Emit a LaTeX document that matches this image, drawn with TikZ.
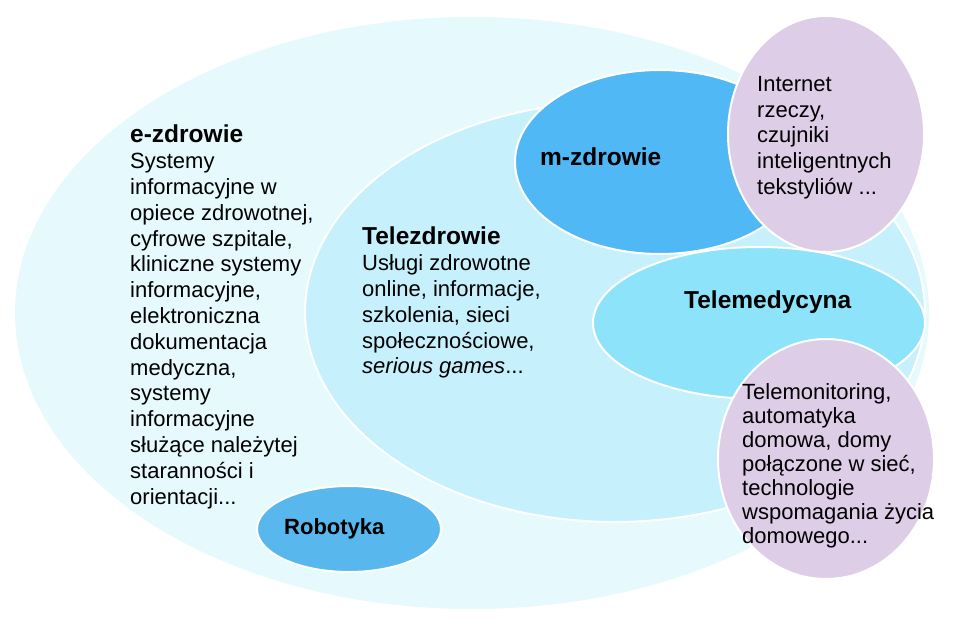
\documentclass[tikz,border=0pt]{standalone}
\usepackage{fontspec}
\setmainfont{Liberation Sans}
\usetikzlibrary{shapes.geometric}
\definecolor{haze}{HTML}{E6F9FD}
\definecolor{frost}{HTML}{C6F1FC}
\definecolor{azure}{HTML}{4FB8F5}
\definecolor{aqua}{HTML}{8DE3FA}
\definecolor{lilac}{HTML}{DDCDE7}
\definecolor{robo}{HTML}{58B8EE}

\begin{document}
\begin{tikzpicture}[x=1pt,y=-1pt,
  blob/.style={ellipse,draw=white,line width=2pt,inner sep=0pt},
  body/.style={align=left,anchor=north west,inner sep=0pt,font=\fontsize{22}{25.8}\selectfont},
  head/.style={anchor=base west,inner sep=0pt,font=\fontsize{24.5}{25.8}\selectfont\bfseries}]
  \useasboundingbox (0,0) rectangle (957,628);
  % nested areas
  \node[blob,draw=none,fill=haze,minimum width=914pt,minimum height=592pt] (ezdr) at (472,313) {};
  \node[blob,fill=frost,minimum width=620pt,minimum height=420pt] (telezdr) at (615,312) {};
  \node[blob,fill=aqua,minimum width=332pt,minimum height=152pt] (telemed) at (759,323) {};
  \node[blob,fill=azure,minimum width=290pt,minimum height=184pt] (mzdr) at (660,162) {};
  \node[blob,fill=robo,minimum width=184pt,minimum height=86pt] (robot) at (349,529) {};
  % purple add-ons
  \node[blob,fill=lilac,minimum width=196pt,minimum height=236pt] (iot) at (826,134) {};
  \node[blob,fill=lilac,minimum width=216pt,minimum height=240pt] (tmon) at (826,459) {};
  % labels
  \node[body] (ezdrtxt) at (130,125) {{\fontsize{24.5}{25.8}\selectfont\bfseries e-zdrowie}\\Systemy\\informacyjne w\\opiece zdrowotnej,\\cyfrowe szpitale,\\kliniczne systemy\\informacyjne,\\elektroniczna\\dokumentacja\\medyczna,\\systemy\\informacyjne\\służące należytej\\staranności i\\orientacji...};
  \node[body] (telezdrtxt) at (362,227) {{\fontsize{24.5}{25.8}\selectfont\bfseries Telezdrowie}\\Usługi zdrowotne\\online, informacje,\\szkolenia, sieci\\społecznościowe,\\\textit{serious games}...};
  \node[head] (mzdrtxt) at (540,166) {m-zdrowie};
  \node[head] (telemedtxt) at (684,308) {Telemedycyna};
  \node[head,font=\fontsize{22}{25.8}\selectfont\bfseries] (robottxt) at (284,534) {Robotyka};
  \node[body] (iottxt) at (757,76) {Internet\\rzeczy,\\czujniki\\inteligentnych\\tekstyliów ...};
  \node[body,font=\fontsize{22}{24}\selectfont] (tmontxt) at (742,383) {Telemonitoring,\\automatyka\\domowa, domy\\połączone w sieć,\\technologie\\wspomagania życia\\domowego...};
\end{tikzpicture}
\end{document}
